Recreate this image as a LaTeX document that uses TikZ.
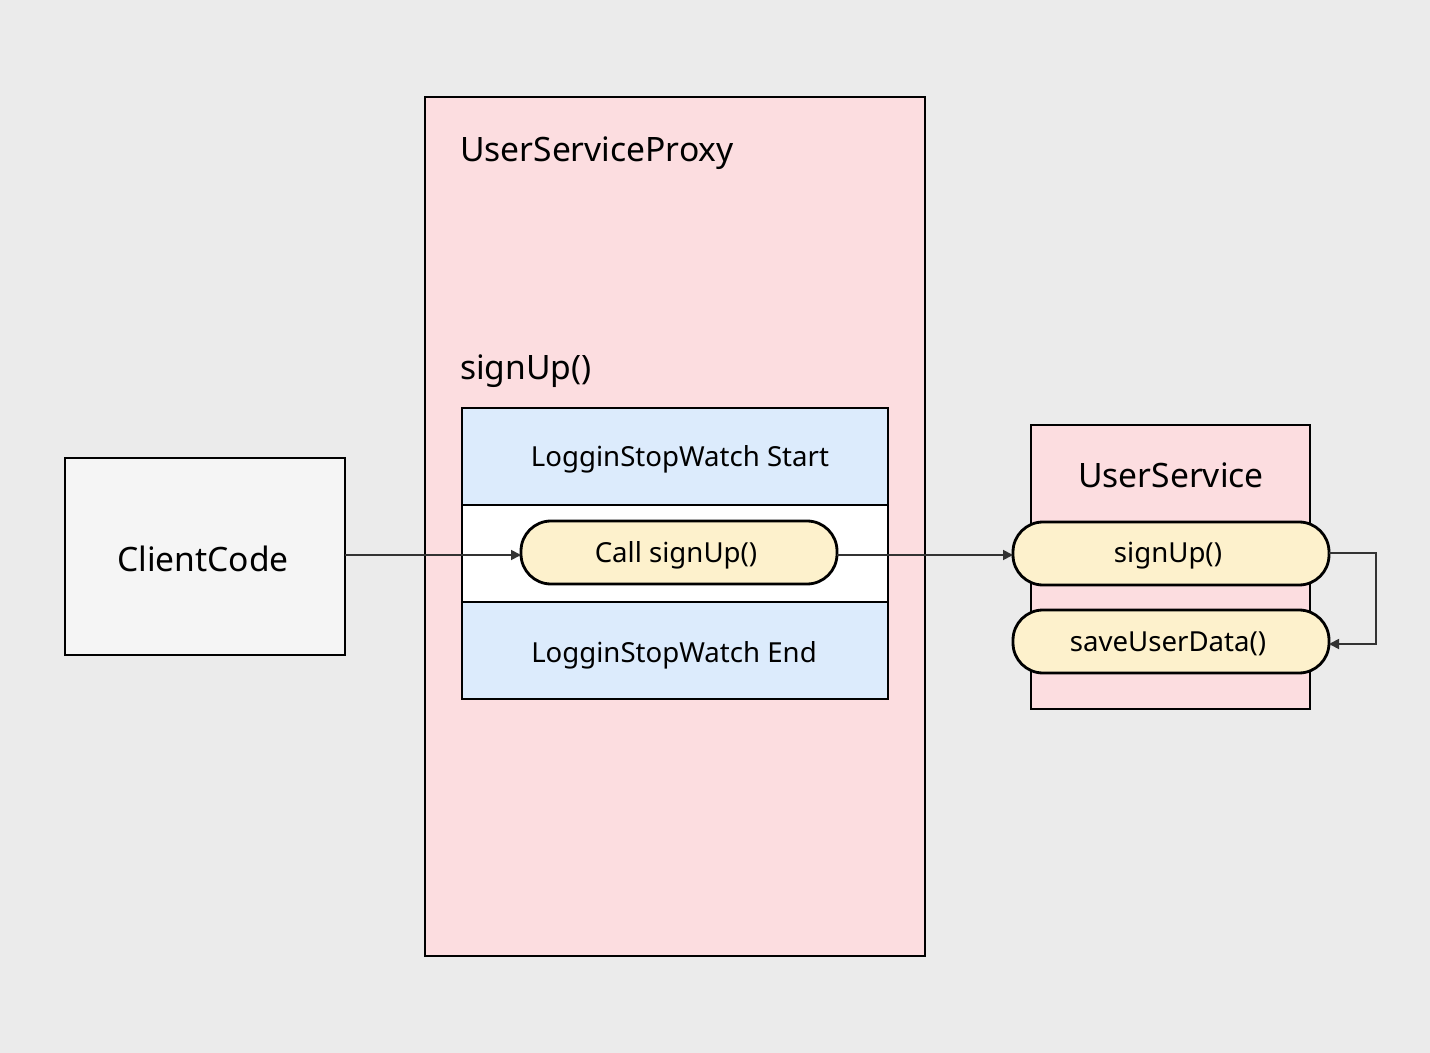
\documentclass[tikz,border=0pt]{standalone}
\usepackage{fontspec}
\setmainfont{Noto Sans}
\usetikzlibrary{arrows.meta}
\definecolor{bg}{HTML}{EBEBEB}
\definecolor{pinkf}{HTML}{FCDDE0}
\definecolor{bluef}{HTML}{DCEBFC}
\definecolor{yelf}{HTML}{FDF1CC}
\definecolor{grayf}{HTML}{F5F5F5}
\definecolor{ln}{HTML}{333333}
\begin{document}
\begin{tikzpicture}[x=0.5pt,y=-0.5pt,
  box/.style={draw=black,line width=1.4pt},
  pill/.style={draw=black,line width=1.4pt,fill=yelf,rounded corners=15pt},
  conn/.style={draw=ln,line width=0.9pt,-{Triangle[length=5pt,width=5pt]}},
  big/.style={font=\fontsize{16.8}{19}\selectfont},
  mid/.style={font=\fontsize{13.8}{16}\selectfont}]
\fill[bg] (0,0) rectangle (1430,1053);
\useasboundingbox (0,0) rectangle (1430,1053);
\draw[box,fill=pinkf] (425,97) rectangle (925,956);
\node[big,anchor=west] (pt) at (453,153) {UserServiceProxy};
\node[big,anchor=west] (st) at (453,371) {signUp()};
\draw[box,fill=bluef] (462,408) rectangle (888,505);
\node[mid] (b1) at (680,459) {LogginStopWatch Start};
\draw[box,fill=white] (462,505) rectangle (888,602);
\draw[box,fill=bluef] (462,602) rectangle (888,699);
\node[mid] (b2) at (674,655) {LogginStopWatch End};
\draw[pill] (521,521) rectangle (837,584);
\node[mid] (call) at (676,555.5) {Call signUp()};
\coordinate (callW) at (521,555); \coordinate (callE) at (837,555);
\draw[box,fill=grayf] (65,458) rectangle (345,655);
\node[big] (cc) at (203,559) {ClientCode};
\coordinate (ccE) at (345,555);
\draw[box,fill=pinkf] (1031,425) rectangle (1310,709);
\node[big] (us) at (1171,475) {UserService};
\draw[pill] (1013,522) rectangle (1329,585);
\node[mid] (su) at (1168,556) {signUp()};
\draw[pill] (1013,610) rectangle (1329,673);
\node[mid] (sv) at (1168,644) {saveUserData()};
\coordinate (suW) at (1013,555); \coordinate (suE) at (1329,553);
\coordinate (svE) at (1329,644);
\draw[conn] (ccE) -- (callW);
\draw[conn] (callE) -- (suW);
\draw[conn] (suE) -- (1376,553) -- (1376,644) -- (svE);
\end{tikzpicture}
\end{document}
